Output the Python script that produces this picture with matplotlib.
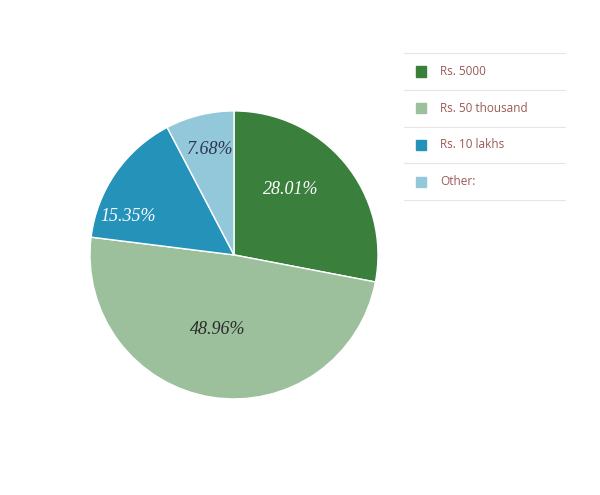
import numpy as np
import matplotlib
matplotlib.use("Agg")
from matplotlib import pyplot as plt

labels = ["Rs. 5000", "Rs. 50 thousand", "Rs. 10 lakhs", "Other:"]
values = [28.01, 48.96, 15.35, 7.68]
colors = ["#3a7f3c", "#9cc09c", "#2592ba", "#93c8da"]
text_colors = ["white", "#2b2b2b", "white", "#2c3550"]
# label placement (angle in degrees, radius as fraction of pie radius)
label_angle = [49, -102, 160, 103]
label_r = [0.6, 0.53, 0.78, 0.75]

fig = plt.figure(figsize=(6, 4.95), dpi=100)
ax = fig.add_axes([0.15, 0.194, 0.48, 0.582])
wedges, _ = ax.pie(values, colors=colors, startangle=90, counterclock=False,
                   wedgeprops=dict(edgecolor="white", linewidth=1))
ax.set_xlim(-1, 1)
ax.set_ylim(-1, 1)
ax.set_aspect("equal")

for v, a, r, c in zip(values, label_angle, label_r, text_colors):
    t = np.deg2rad(a)
    ax.text(r * np.cos(t), r * np.sin(t), f"{v:.2f}%", ha="center", va="center",
            color=c, fontsize=13, style="italic", family="Liberation Serif")

# legend drawn as a list with separator lines
lx0, lx1 = 404 / 600, 565 / 600
rows = [1 - y / 495 for y in [53, 90, 127, 163, 200]]
for y in rows:
    fig.add_artist(plt.Line2D([lx0, lx1], [y, y], color="#e6e6e6", lw=0.8))
for i, (lab, col) in enumerate(zip(labels, colors)):
    yc = (rows[i] + rows[i + 1]) / 2
    fig.add_artist(plt.Rectangle((416 / 600, yc - 5 / 495), 10 / 600, 10 / 495,
                                 color=col, transform=fig.transFigure))
    fig.text(440 / 600, yc, lab, ha="left", va="center", color="#9a5a55",
             fontsize=8.5, family="Open Sans")

fig.savefig("out.png", dpi=100)
